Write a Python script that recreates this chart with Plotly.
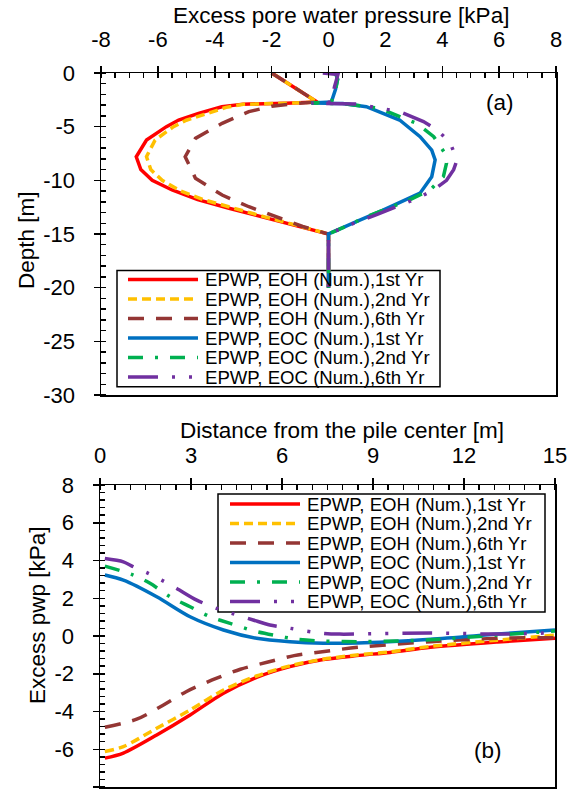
import plotly.graph_objects as go

FONT = "Arial, Liberation Sans, sans-serif"
W, H = 578, 794

# ---------------- Panel (a): EPWP vs depth ----------------
series_names = [
    "EPWP, EOH (Num.),1st Yr",
    "EPWP, EOH (Num.),2nd Yr",
    "EPWP, EOH (Num.),6th Yr",
    "EPWP, EOC (Num.),1st Yr",
    "EPWP, EOC (Num.),2nd Yr",
    "EPWP, EOC (Num.),6th Yr",
]
colors = ["#FF0000", "#FFC000", "#943634", "#0070C0", "#00B050", "#7030A0"]
dashes = ["solid", "9px,5px", "16px,12px", "solid", "15px,12px,3px,12px",
          "30px,14px,3px,14px,3px,14px"]

a_eoh1_p = [-2.0, -1.2, -0.4, -1.5, -3.0, -3.75, -4.57, -5.27, -5.7, -6.4, -6.76, -6.6, -6.2, -5.5, -4.6, -3.5, -2.3, -1.14, 0.0, 0.0]
a_eoh1_d = [0.0, -1.35, -2.7, -2.82, -2.9, -3.14, -3.76, -4.38, -5.0, -6.25, -7.8, -9.0, -10.0, -10.9, -11.8, -12.6, -13.4, -14.2, -15.0, -20.0]

a_eoh2_p = [-2.0, -1.2, -0.4, -1.5, -3.0, -3.6, -4.35, -5.0, -5.45, -6.1, -6.4, -6.25, -5.85, -5.2, -4.4, -3.35, -2.25, -1.1, 0.0, 0.0]
a_eoh2_d = [0.0, -1.35, -2.7, -2.82, -2.92, -3.2, -3.8, -4.4, -5.0, -6.25, -7.8, -9.0, -10.0, -11.0, -11.8, -12.6, -13.4, -14.2, -15.0, -20.0]

a_eoh6_p = [-2.0, -1.2, -0.4, -1.2, -2.0, -2.8, -3.74, -4.68, -5.04, -4.68, -3.74, -2.8, -1.85, -0.91, 0.0, 0.0]
a_eoh6_d = [0.0, -1.35, -2.7, -2.85, -3.1, -3.6, -4.69, -6.09, -7.8, -9.8, -11.37, -12.46, -13.4, -14.3, -15.0, -20.0]

a_eoc1_p = [0.25, 0.32, 0.25, 0.15, 0.1, -0.6, 0.5, 1.33, 2.5, 3.22, 3.63, 3.75, 3.63, 3.22, 2.5, 1.9, 1.1, 0.0, 0.0]
a_eoc1_d = [0.0, -0.6, -1.5, -2.3, -2.7, -2.8, -2.85, -3.14, -4.38, -5.93, -7.18, -8.1, -9.66, -11.2, -12.1, -12.8, -13.7, -15.0, -20.0]

a_eoc2_p = [0.25, 0.32, 0.25, 0.15, 0.1, -0.6, 0.6, 1.8, 3.1, 3.7, 4.1, 4.15, 4.04, 3.57, 2.87, 2.1, 1.33, 0.6, 0.0, 0.0]
a_eoc2_d = [0.0, -0.6, -1.5, -2.3, -2.7, -2.8, -2.88, -3.3, -4.7, -5.93, -7.5, -8.4, -9.66, -10.9, -11.8, -12.6, -13.4, -14.3, -15.0, -20.0]

a_eoc6_p = [-0.2, 0.33, 0.21, 0.1, -0.6, 1.0, 2.5, 3.34, 3.81, 4.26, 4.52, 4.4, 4.15, 3.69, 3.1, 2.4, 1.69, 0.8, 0.0, 0.0]
a_eoc6_d = [0.0, -0.15, -1.3, -2.7, -2.8, -2.9, -3.6, -4.53, -5.3, -6.4, -8.1, -9.0, -10.0, -10.9, -11.7, -12.46, -13.2, -14.1, -15.0, -20.0]

# ---------------- Panel (b): EPWP vs distance ----------------
b_eoh1_x = [0.16, 0.77, 1.87, 2.97, 4.07, 5.16, 6.26, 7.36, 8.46, 9.56, 10.9, 13.1, 15.0]
b_eoh1_y = [-6.47, -6.2, -5.24, -4.18, -3.03, -2.19, -1.62, -1.25, -1.04, -0.87, -0.6, -0.32, -0.12]

b_eoh2_x = [0.16, 0.77, 1.87, 2.97, 4.07, 5.16, 6.26, 7.36, 8.46, 9.56, 10.9, 13.1, 15.0]
b_eoh2_y = [-6.12, -5.86, -4.89, -3.92, -2.86, -2.12, -1.58, -1.23, -1.01, -0.84, -0.55, -0.22, 0.05]

b_eoh6_x = [0.16, 1.21, 2.08, 2.84, 3.7, 4.63, 5.54, 6.4, 7.33, 8.5, 10.9, 13.1, 15.0]
b_eoh6_y = [-4.83, -4.41, -3.67, -2.95, -2.33, -1.76, -1.38, -1.04, -0.83, -0.6, -0.3, -0.12, -0.09]

b_eoc1_x = [0.16, 0.77, 1.87, 2.97, 4.07, 5.16, 6.26, 7.36, 8.5, 10.9, 13.1, 15.0]
b_eoc1_y = [3.23, 2.96, 2.08, 1.02, 0.32, -0.12, -0.3, -0.38, -0.37, -0.17, 0.1, 0.32]

b_eoc2_x = [0.16, 1.1, 1.65, 2.31, 2.97, 3.63, 4.29, 5.05, 5.71, 6.48, 7.36, 8.5, 10.9, 13.1, 15.0]
b_eoc2_y = [3.7, 3.23, 2.79, 2.08, 1.55, 1.02, 0.67, 0.28, 0.05, -0.17, -0.27, -0.3, -0.2, 0.05, 0.26]

b_eoc6_x = [0.16, 0.77, 1.1, 1.59, 2.03, 2.53, 3.19, 3.85, 4.34, 5.05, 5.6, 6.26, 6.81, 7.36, 7.9, 10.9, 13.1, 15.0]
b_eoc6_y = [4.1, 3.93, 3.67, 3.32, 2.96, 2.52, 1.9, 1.46, 1.2, 0.85, 0.58, 0.41, 0.26, 0.14, 0.1, 0.16, 0.1, 0.17]

a_xticks = [-8, -6, -4, -2, 0, 2, 4, 6, 8]
a_yticks = [0, -5, -10, -15, -20, -25, -30]
b_xticks = [0, 3, 6, 9, 12, 15]
b_yticks = [8, 6, 4, 2, 0, -2, -4, -6, -8]

panel_a = [(a_eoh1_p, a_eoh1_d), (a_eoh2_p, a_eoh2_d), (a_eoh6_p, a_eoh6_d),
           (a_eoc1_p, a_eoc1_d), (a_eoc2_p, a_eoc2_d), (a_eoc6_p, a_eoc6_d)]
panel_b = [(b_eoh1_x, b_eoh1_y), (b_eoh2_x, b_eoh2_y), (b_eoh6_x, b_eoh6_y),
           (b_eoc1_x, b_eoc1_y), (b_eoc2_x, b_eoc2_y), (b_eoc6_x, b_eoc6_y)]

fig = go.Figure()
for i, (xv, yv) in enumerate(panel_a):
    fig.add_trace(go.Scatter(x=xv, y=yv, mode="lines", name=series_names[i],
                             line=dict(color=colors[i], width=3.5, dash=dashes[i]),
                             xaxis="x", yaxis="y", showlegend=False))
for i, (xv, yv) in enumerate(panel_b):
    fig.add_trace(go.Scatter(x=xv, y=yv, mode="lines", name=series_names[i],
                             line=dict(color=colors[i], width=3.5, dash=dashes[i],
                                       shape="spline", smoothing=0.8),
                             xaxis="x2", yaxis="y2", showlegend=False))

def px(x):
    return x / W

def py(y):
    return 1 - y / H

def labels(vals):
    return [str(v) for v in vals]

tickfont = dict(size=22, color="black", family=FONT)
common = dict(showline=True, linecolor="black", linewidth=1.5, mirror=True,
              ticks="outside", ticklen=6, tickwidth=1.5, tickcolor="black",
              showgrid=False, zeroline=False, tickfont=tickfont, fixedrange=True,
              automargin=False)
overlay = dict(ticks="inside", ticklen=6, tickwidth=1.5, tickcolor="black",
               showticklabels=False, showline=False, showgrid=False, zeroline=False,
               automargin=False)

dom_a_x = [px(101), px(556)]
dom_a_y = [py(395), py(73)]
dom_b_x = [px(100), px(555)]
dom_b_y = [py(787), py(485)]

fig.update_layout(
    width=W, height=H, autosize=False,
    margin=dict(l=0, r=0, t=0, b=0, pad=0, autoexpand=False),
    paper_bgcolor="white", plot_bgcolor="white",
    font=dict(family=FONT, color="black"),
    xaxis=dict(common, domain=dom_a_x, anchor="y", side="top", range=[-8, 8],
               tickvals=a_xticks, ticktext=labels(a_xticks), ticklabelstandoff=10,
               minor=dict(ticks="inside", ticklen=5, tickwidth=1.5, tickcolor="black", dtick=0.5)),
    yaxis=dict(common, domain=dom_a_y, anchor="x", range=[-30, 0],
               tickvals=a_yticks, ticktext=labels(a_yticks), ticklabelstandoff=14,
               minor=dict(ticks="inside", ticklen=5, tickwidth=1.5, tickcolor="black", dtick=1)),
    xaxis2=dict(common, domain=dom_b_x, anchor="y2", side="top", range=[0, 15],
                tickvals=b_xticks, ticktext=labels(b_xticks), ticklabelstandoff=6,
                minor=dict(ticks="inside", ticklen=5, tickwidth=1.5, tickcolor="black", dtick=0.5)),
    yaxis2=dict(common, domain=dom_b_y, anchor="x2", range=[-8, 8],
                tickvals=b_yticks, ticktext=labels(b_yticks), ticklabelstandoff=14,
                minor=dict(ticks="inside", ticklen=5, tickwidth=1.5, tickcolor="black", dtick=0.4)),
    xaxis3=dict(overlay, overlaying="x", anchor="y", side="top", range=[-8, 8], tickvals=a_xticks),
    yaxis3=dict(overlay, overlaying="y", anchor="x", range=[-30, 0], tickvals=a_yticks),
    xaxis4=dict(overlay, overlaying="x2", anchor="y2", side="top", range=[0, 15], tickvals=b_xticks),
    yaxis4=dict(overlay, overlaying="y2", anchor="x2", range=[-8, 8], tickvals=b_yticks),
)

ann = []
title_font = dict(size=22.5, color="black", family=FONT)
ann.append(dict(text="Excess pore water pressure [kPa]", x=px(341), y=py(15),
                xref="paper", yref="paper", showarrow=False, font=title_font,
                xanchor="center", yanchor="middle"))
ann.append(dict(text="Depth [m]", x=px(26), y=py(240), textangle=-90,
                xref="paper", yref="paper", showarrow=False, font=title_font,
                xanchor="center", yanchor="middle"))
ann.append(dict(text="Distance from the pile center [m]", x=px(342), y=py(430),
                xref="paper", yref="paper", showarrow=False, font=title_font,
                xanchor="center", yanchor="middle"))
ann.append(dict(text="Excess pwp [kPa]", x=px(37), y=py(615), textangle=-90,
                xref="paper", yref="paper", showarrow=False, font=title_font,
                xanchor="center", yanchor="middle"))
ann.append(dict(text="(a)", x=px(500), y=py(103), xref="paper", yref="paper",
                showarrow=False, font=title_font, xanchor="center", yanchor="middle"))
ann.append(dict(text="(b)", x=px(488), y=py(750), xref="paper", yref="paper",
                showarrow=False, font=title_font, xanchor="center", yanchor="middle"))

shapes = []
legend_font = dict(size=18.6, color="black", family=FONT)

def add_legend(box, sample_x, text_x, row0, pitch):
    x0, y0, x1, y1 = box
    shapes.append(dict(type="rect", xref="paper", yref="paper", layer="below",
                       x0=px(x0), x1=px(x1), y0=py(y1), y1=py(y0),
                       line=dict(color="black", width=1.5), fillcolor="white"))
    for i, name in enumerate(series_names):
        yc = row0 + i * pitch
        shapes.append(dict(type="line", xref="paper", yref="paper",
                           x0=px(sample_x[0]), x1=px(sample_x[1]), y0=py(yc), y1=py(yc),
                           line=dict(color=colors[i], width=3.5, dash=dashes[i])))
        ann.append(dict(text=name, x=px(text_x), y=py(yc), xref="paper", yref="paper",
                        showarrow=False, font=legend_font, xanchor="left", yanchor="middle"))

add_legend((117, 270.5, 440, 386.7), (128, 198), 203, 279.5, 19.5)
add_legend((218, 494, 545, 612), (230, 300), 305, 504, 19.5)

fig.update_layout(annotations=ann, shapes=shapes)
fig.write_html("out.html",
               config={"displayModeBar": False, "staticPlot": True},
               post_script="document.body.style.margin='0';document.body.style.overflow='hidden';")
